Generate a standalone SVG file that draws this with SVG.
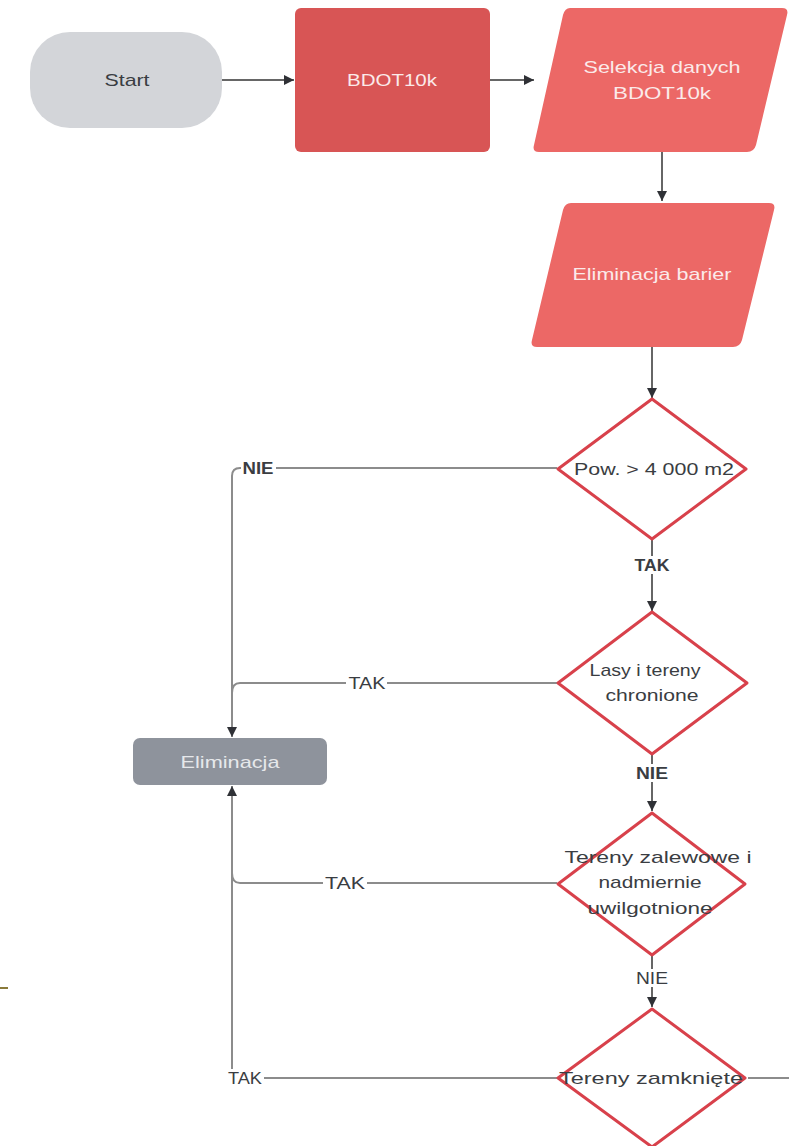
<svg xmlns="http://www.w3.org/2000/svg" width="789" height="1146" viewBox="0 0 789 1146">
<defs>
<style>
.t{font-family:"Liberation Sans",Arial,sans-serif;font-size:17px;text-anchor:middle;dominant-baseline:central}
.w{fill:#fbeaea}
.d{fill:#3a3d42}
.dia{fill:#ffffff;stroke:#d8414b;stroke-width:3;stroke-linejoin:round}
.ln{fill:none;stroke:#8c8c8c;stroke-width:2}
.lnd{fill:none;stroke:#666;stroke-width:2}
.lb{font-family:"Liberation Sans",Arial,sans-serif;font-size:16px;text-anchor:middle;dominant-baseline:central;fill:#3a3d42}
</style>
<marker id="ah" viewBox="0 0 10 10" refX="10" refY="5" markerWidth="10" markerHeight="10" markerUnits="userSpaceOnUse" orient="auto">
<path d="M0,0 L10,5 L0,10 Z" fill="#2f3136"/>
</marker>
</defs>
<rect width="789" height="1146" fill="#ffffff"/>
<g id="connectors">
<path class="lnd" d="M222,80 H294" marker-end="url(#ah)"/>
<path class="lnd" d="M490,80 H534" marker-end="url(#ah)"/>
<path class="lnd" d="M662,152 V201" marker-end="url(#ah)"/>
<path class="lnd" d="M652,347 V398" marker-end="url(#ah)"/>
<path class="ln" d="M557,468 H240 Q232,468 232,476 V737" marker-end="url(#ah)"/>
<path class="lnd" d="M652,540 V611" marker-end="url(#ah)"/>
<path class="ln" d="M557,683 H240 Q232,683 232,693"/>
<path class="lnd" d="M652,755 V811" marker-end="url(#ah)"/>
<path class="ln" d="M557,883 H240 Q232,883 232,873"/>
<path class="lnd" d="M652,955 V1007" marker-end="url(#ah)"/>
<path class="ln" d="M557,1078 H232 V786" marker-end="url(#ah)"/>
<path class="ln" d="M748,1078 H789"/>
<rect x="241" y="459" width="35" height="18" fill="#fff"/>
<text class="lb" x="258" y="468" font-weight="bold" textLength="31" lengthAdjust="spacingAndGlyphs">NIE</text>
<rect x="633" y="556" width="38" height="18" fill="#fff"/>
<text class="lb" x="652" y="565" font-weight="bold" textLength="35" lengthAdjust="spacingAndGlyphs">TAK</text>
<rect x="346" y="674" width="41" height="18" fill="#fff"/>
<text class="lb" x="367" y="683" textLength="37" lengthAdjust="spacingAndGlyphs">TAK</text>
<rect x="634" y="764" width="36" height="18" fill="#fff"/>
<text class="lb" x="652" y="773" font-weight="bold" textLength="32" lengthAdjust="spacingAndGlyphs">NIE</text>
<rect x="323" y="874" width="44" height="18" fill="#fff"/>
<text class="lb" x="345" y="883" textLength="40" lengthAdjust="spacingAndGlyphs">TAK</text>
<rect x="634" y="969" width="36" height="18" fill="#fff"/>
<text class="lb" x="652" y="978" textLength="32" lengthAdjust="spacingAndGlyphs">NIE</text>
<rect x="227" y="1069" width="37" height="18" fill="#fff"/>
<text class="lb" x="245" y="1078" textLength="34" lengthAdjust="spacingAndGlyphs">TAK</text>
</g>
<g id="start">
<rect x="30" y="32" width="192" height="96" rx="40" fill="#d3d5d9"/>
<text class="t d" x="127" y="80" textLength="45" lengthAdjust="spacingAndGlyphs">Start</text>
</g>
<g id="bdot">
<rect x="295" y="8" width="195" height="144" rx="6" fill="#d85555"/>
<text class="t w" x="392" y="80" textLength="90" lengthAdjust="spacingAndGlyphs">BDOT10k</text>
</g>
<g id="selekcja">
<path d="M570,8 H782 Q789,8 787,15 L756,145 Q754,152 747,152 H539 Q532,152 534,145 L563,15 Q565,8 570,8 Z" fill="#ec6866"/>
<text class="t w" x="662" y="67" textLength="157" lengthAdjust="spacingAndGlyphs">Selekcja danych</text>
<text class="t w" x="662" y="93" textLength="98" lengthAdjust="spacingAndGlyphs">BDOT10k</text>
</g>
<g id="bariery">
<path d="M571,203 H769 Q776,203 774,210 L742,340 Q740,347 733,347 H537 Q530,347 532,340 L563,210 Q565,203 571,203 Z" fill="#ec6866"/>
<text class="t w" x="652" y="274" textLength="159" lengthAdjust="spacingAndGlyphs">Eliminacja barier</text>
</g>
<g id="d1">
<polygon class="dia" points="652,399 746,469 652,539 558,469"/>
<text class="t d" x="654" y="469" textLength="160" lengthAdjust="spacingAndGlyphs">Pow. &gt; 4 000 m2</text>
</g>
<g id="d2">
<polygon class="dia" points="652,612 747,683 652,754 558,683"/>
<text class="t d" x="645" y="670" textLength="111" lengthAdjust="spacingAndGlyphs">Lasy i tereny</text>
<text class="t d" x="652" y="695" textLength="93" lengthAdjust="spacingAndGlyphs">chronione</text>
</g>
<g id="eliminacja">
<rect x="133" y="738" width="194" height="47" rx="7" fill="#8e939c"/>
<text class="t" x="230" y="762" fill="#e6e8eb" textLength="99" lengthAdjust="spacingAndGlyphs">Eliminacja</text>
</g>
<g id="d3">
<polygon class="dia" points="652,813 745,884 652,955 558,884"/>
<text class="t d" x="658" y="857" textLength="187" lengthAdjust="spacingAndGlyphs">Tereny zalewowe i</text>
<text class="t d" x="650" y="882" textLength="103" lengthAdjust="spacingAndGlyphs">nadmiernie</text>
<text class="t d" x="650" y="908" textLength="125" lengthAdjust="spacingAndGlyphs">uwilgotnione</text>
</g>
<g id="d4">
<polygon class="dia" points="652,1009 745,1078 652,1147 558,1078"/>
<text class="t d" x="651" y="1078" textLength="184" lengthAdjust="spacingAndGlyphs">Tereny zamknięte</text>
</g>
<line x1="0" y1="988" x2="8" y2="988" stroke="#8a7a3a" stroke-width="2"/>
</svg>
